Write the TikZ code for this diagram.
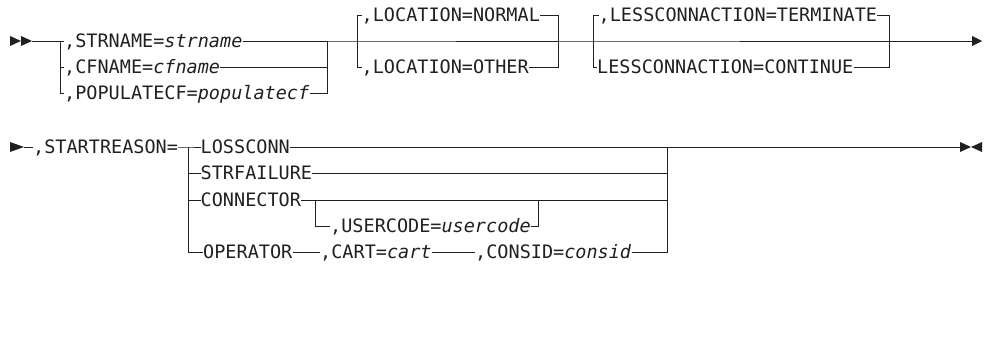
\documentclass[tikz,border=0pt]{standalone}
\usepackage{fontspec}
\setmonofont{DejaVu Sans Mono}
\usetikzlibrary{arrows.meta}
\definecolor{rail}{HTML}{231F20}
\tikzset{
  track/.style={draw=rail,line width=0.9pt},
  kw/.style={anchor=west,inner xsep=0pt,inner ysep=0pt,text height=13.5pt,text depth=0pt,
    text=rail,font=\ttfamily\fontsize{18.5}{20}\selectfont},
}
\newcommand{\var}[1]{\textit{#1}}

\begin{document}
\begin{tikzpicture}[x=1pt,y=-1pt]
\useasboundingbox (0,0) rectangle (984,339);

% row 1: double start marker
\fill[rail] (10,36) -- (21,41) -- (10,46) -- cycle;
\fill[rail] (21,36) -- (32,41) -- (21,46) -- cycle;
\coordinate (rowAstart) at (32,41);
\coordinate (rowAend) at (982,41);

% name choice
\coordinate (nameL) at (60,41);
\coordinate (nameR) at (327,41);
\node[kw] (strname) at (64,41) {,STRNAME=\var{strname}};
\node[kw] (cfname) at (64,67) {,CFNAME=\var{cfname}};
\node[kw] (popcf) at (64,93) {,POPULATECF=\var{populatecf}};
\draw[track] (rowAstart) -- (strname.west);
\draw[track] (strname.east) -- (nameR);
\draw[track] (nameL) |- (cfname.west);
\draw[track] (nameL) |- (popcf.west);
\draw[track] (cfname.east) -| (nameR);
\draw[track] (popcf.east) -| (nameR);

% location (optional)
\coordinate (locL) at (357,41);
\coordinate (locR) at (558,41);
\node[kw] (normal) at (361.5,15) {,LOCATION=NORMAL};
\node[kw] (other) at (361.5,67) {,LOCATION=OTHER};
\draw[track] (nameR) -- (locL) -- (locR);
\draw[track] (locL) |- (normal.west);
\draw[track] (locL) |- (other.west);
\draw[track] (normal.east) -| (locR);
\draw[track] (other.east) -| (locR);

% lessconnaction (optional)
\coordinate (lessL) at (593,41);
\coordinate (lessR) at (889,41);
\node[kw] (terminate) at (598.5,15) {,LESSCONNACTION=TERMINATE};
\node[kw] (continue) at (597,67) {LESSCONNACTION=CONTINUE};
\draw[track] (locR) -- (lessL) -- (lessR);
\draw[track] (lessL) |- (terminate.west);
\draw[track] (lessL) |- (continue.west);
\draw[track] (terminate.east) -| (lessR);
\draw[track] (continue.east) -| (lessR);
\draw[track,-{Triangle[length=10pt,width=10pt]}] (lessR) -- (rowAend);

% row 2: continuation marker
\fill[rail] (10,142) -- (24,147) -- (10,152) -- cycle;
\coordinate (rowBstart) at (24,147);
\node[kw] (startreason) at (33,147) {,STARTREASON=};
\draw[track] (rowBstart) -- (startreason.west);

% reason choice
\coordinate (reasonL) at (188,147);
\coordinate (reasonR) at (667,147);
\node[kw] (lossconn) at (200.5,147) {LOSSCONN};
\node[kw] (strfail) at (200.5,173) {STRFAILURE};
\node[kw] (connector) at (200.5,200) {CONNECTOR};
\node[kw] (operator) at (203,252) {OPERATOR};
\draw[track] (startreason.east) -- (reasonL) -- (lossconn.west);
\draw[track] (lossconn.east) -- (reasonR);
\draw[track] (reasonL) |- (strfail.west);
\draw[track] (reasonL) |- (connector.west);
\draw[track] (reasonL) |- (operator.west);
\draw[track] (strfail.east) -| (reasonR);

% connector with optional usercode
\coordinate (userL) at (315,200);
\coordinate (userR) at (538,200);
\node[kw] (usercode) at (330,226) {,USERCODE=\var{usercode}};
\draw[track] (connector.east) -| (reasonR);
\draw[track] (userL) |- (usercode.west);
\draw[track] (usercode.east) -| (userR);

% operator sequence
\node[kw] (cart) at (320,252) {,CART=\var{cart}};
\node[kw] (consid) at (475,252) {,CONSID=\var{consid}};
\draw[track] (operator.east) -- (cart.west);
\draw[track] (cart.east) -- (consid.west);
\draw[track] (consid.east) -| (reasonR);

% end marker
\coordinate (rowBend) at (960,147);
\draw[track] (reasonR) -- (rowBend);
\fill[rail] (960,142) -- (971,147) -- (960,152) -- cycle;
\fill[rail] (982,142) -- (971,147) -- (982,152) -- cycle;
\end{tikzpicture}
\end{document}
